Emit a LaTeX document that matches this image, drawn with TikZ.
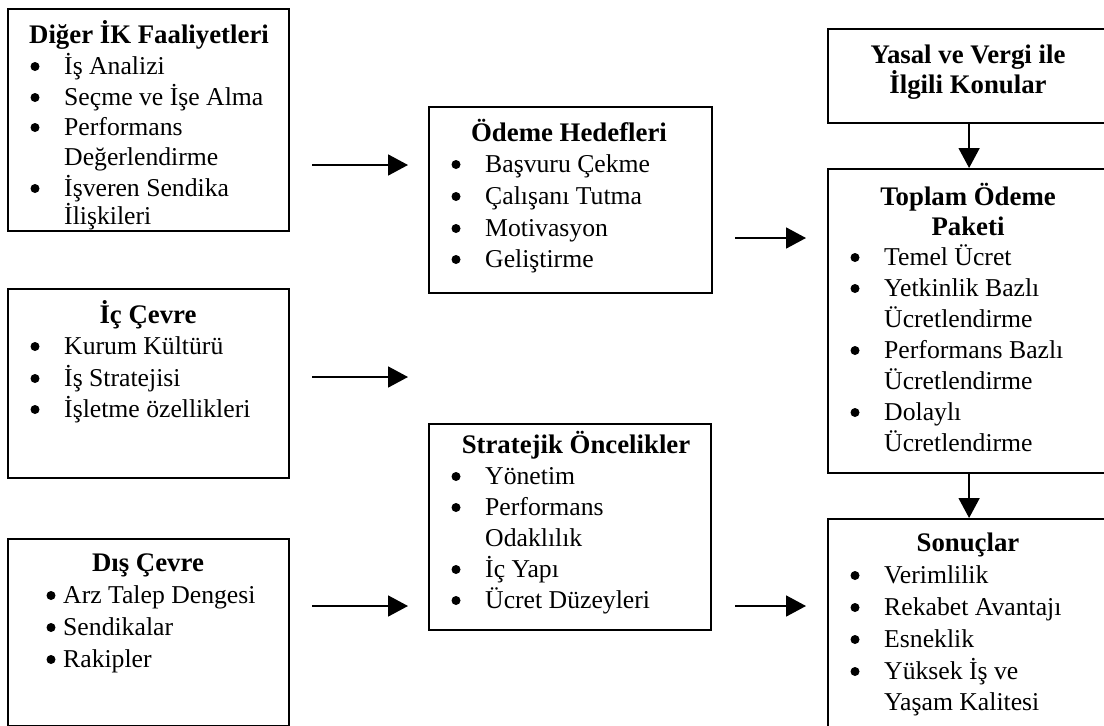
\documentclass[tikz,border=0pt]{standalone}
\usepackage{fontspec}
\setmainfont{Liberation Serif}
\usetikzlibrary{arrows.meta}
\newcommand\itm[4]{\node[bul] (#1b) at ({#2+28},{#3-7.5}) {};\node[txt] (#1) at ({#2+57},#3) {#4};}
\newcommand\cnt[4]{\node[txt] (#1) at ({#2+57},#3) {#4};}
\begin{document}
\begin{tikzpicture}[x=1pt,y=-1pt,
  box/.style={draw, line width=2.2pt, rectangle, inner sep=0pt, anchor=north west},
  ttl/.style={font=\fontsize{26.8}{30}\selectfont\bfseries, inner sep=0pt, anchor=base},
  txt/.style={font=\fontsize{25.7}{30}\selectfont, inner sep=0pt, anchor=base west},
  bul/.style={circle, fill, inner sep=0pt, minimum size=9pt},
  arr/.style={line width=1.8pt, -{Triangle[length=20pt,width=21pt]}}]
\clip (0,0) rectangle (1104,726);
\fill[white] (0,0) rectangle (1104,726);
% left column
\node[box, minimum width=281pt, minimum height=222pt] (diger) at (7,8) {};
\node[ttl] (digert) at (149,43) {Diğer İK Faaliyetleri};
\itm{d1}{7}{74}{İş Analizi}
\itm{d2}{7}{105}{Seçme ve İşe Alma}
\itm{d3}{7}{135}{Performans}
\cnt{d4}{7}{165}{Değerlendirme}
\itm{d5}{7}{196}{İşveren Sendika}
\cnt{d6}{7}{224}{İlişkileri}

\node[box, minimum width=281pt, minimum height=189pt] (ic) at (7,288) {};
\node[ttl] (ict) at (148,323) {İç Çevre};
\itm{i1}{7}{354}{Kurum Kültürü}
\itm{i2}{7}{386}{İş Stratejisi}
\itm{i3}{7}{417}{İşletme özellikleri}

\node[box, minimum width=281pt, minimum height=187pt] (dis) at (7,538) {};
\node[ttl] (dist) at (148,571) {Dış Çevre};
\node[bul] (s1b) at (51,595.5) {};\node[txt] (s1) at (63,603) {Arz Talep Dengesi};
\node[bul] (s2b) at (51,627.5) {};\node[txt] (s2) at (63,635) {Sendikalar};
\node[bul] (s3b) at (51,659.5) {};\node[txt] (s3) at (63,667) {Rakipler};

% middle column
\node[box, minimum width=283pt, minimum height=186pt] (odeme) at (428,106) {};
\node[ttl] (odemet) at (569,141) {Ödeme Hedefleri};
\itm{o1}{428}{172}{Başvuru Çekme}
\itm{o2}{428}{204}{Çalışanı Tutma}
\itm{o3}{428}{236}{Motivasyon}
\itm{o4}{428}{267}{Geliştirme}

\node[box, minimum width=282pt, minimum height=206pt] (strat) at (428,423) {};
\node[ttl] (stratt) at (576,453) {Stratejik Öncelikler};
\itm{t1}{428}{484}{Yönetim}
\itm{t2}{428}{515}{Performans}
\cnt{t3}{428}{546}{Odaklılık}
\itm{t4}{428}{577}{İç Yapı}
\itm{t5}{428}{608}{Ücret Düzeyleri}

% right column
\node[box, minimum width=282pt, minimum height=94pt] (yasal) at (827,28) {};
\node[ttl] (yasalt1) at (968,63) {Yasal ve Vergi ile};
\node[ttl] (yasalt2) at (968,93) {İlgili Konular};

\node[box, minimum width=282pt, minimum height=304pt] (toplam) at (827,168) {};
\node[ttl] (toplamt1) at (968,205) {Toplam Ödeme};
\node[ttl] (toplamt2) at (968,235) {Paketi};
\itm{p1}{827}{265}{Temel Ücret}
\itm{p2}{827}{296}{Yetkinlik Bazlı}
\cnt{p3}{827}{327}{Ücretlendirme}
\itm{p4}{827}{358}{Performans Bazlı}
\cnt{p5}{827}{389}{Ücretlendirme}
\itm{p6}{827}{420}{Dolaylı}
\cnt{p7}{827}{451}{Ücretlendirme}

\node[box, minimum width=282pt, minimum height=222pt] (sonuc) at (827,518) {};
\node[ttl] (sonuct) at (968,551) {Sonuçlar};
\itm{r1}{827}{583}{Verimlilik}
\itm{r2}{827}{615}{Rekabet Avantajı}
\itm{r3}{827}{647}{Esneklik}
\itm{r4}{827}{679}{Yüksek İş ve}
\cnt{r5}{827}{710}{Yaşam Kalitesi}

% arrows
\coordinate (a1s) at (312,165); \coordinate (a1e) at (408,165);
\coordinate (a2s) at (312,377); \coordinate (a2e) at (408,377);
\coordinate (a3s) at (312,606); \coordinate (a3e) at (408,606);
\coordinate (a4s) at (735,238); \coordinate (a4e) at (806,238);
\coordinate (a5s) at (735,606); \coordinate (a5e) at (806,606);
\draw[arr] (a1s) -- (a1e);
\draw[arr] (a2s) -- (a2e);
\draw[arr] (a3s) -- (a3e);
\draw[arr] (a4s) -- (a4e);
\draw[arr] (a5s) -- (a5e);
\draw[arr] (yasal.south) -- (toplam.north);
\draw[arr] (toplam.south) -- (sonuc.north);
\end{tikzpicture}
\end{document}
